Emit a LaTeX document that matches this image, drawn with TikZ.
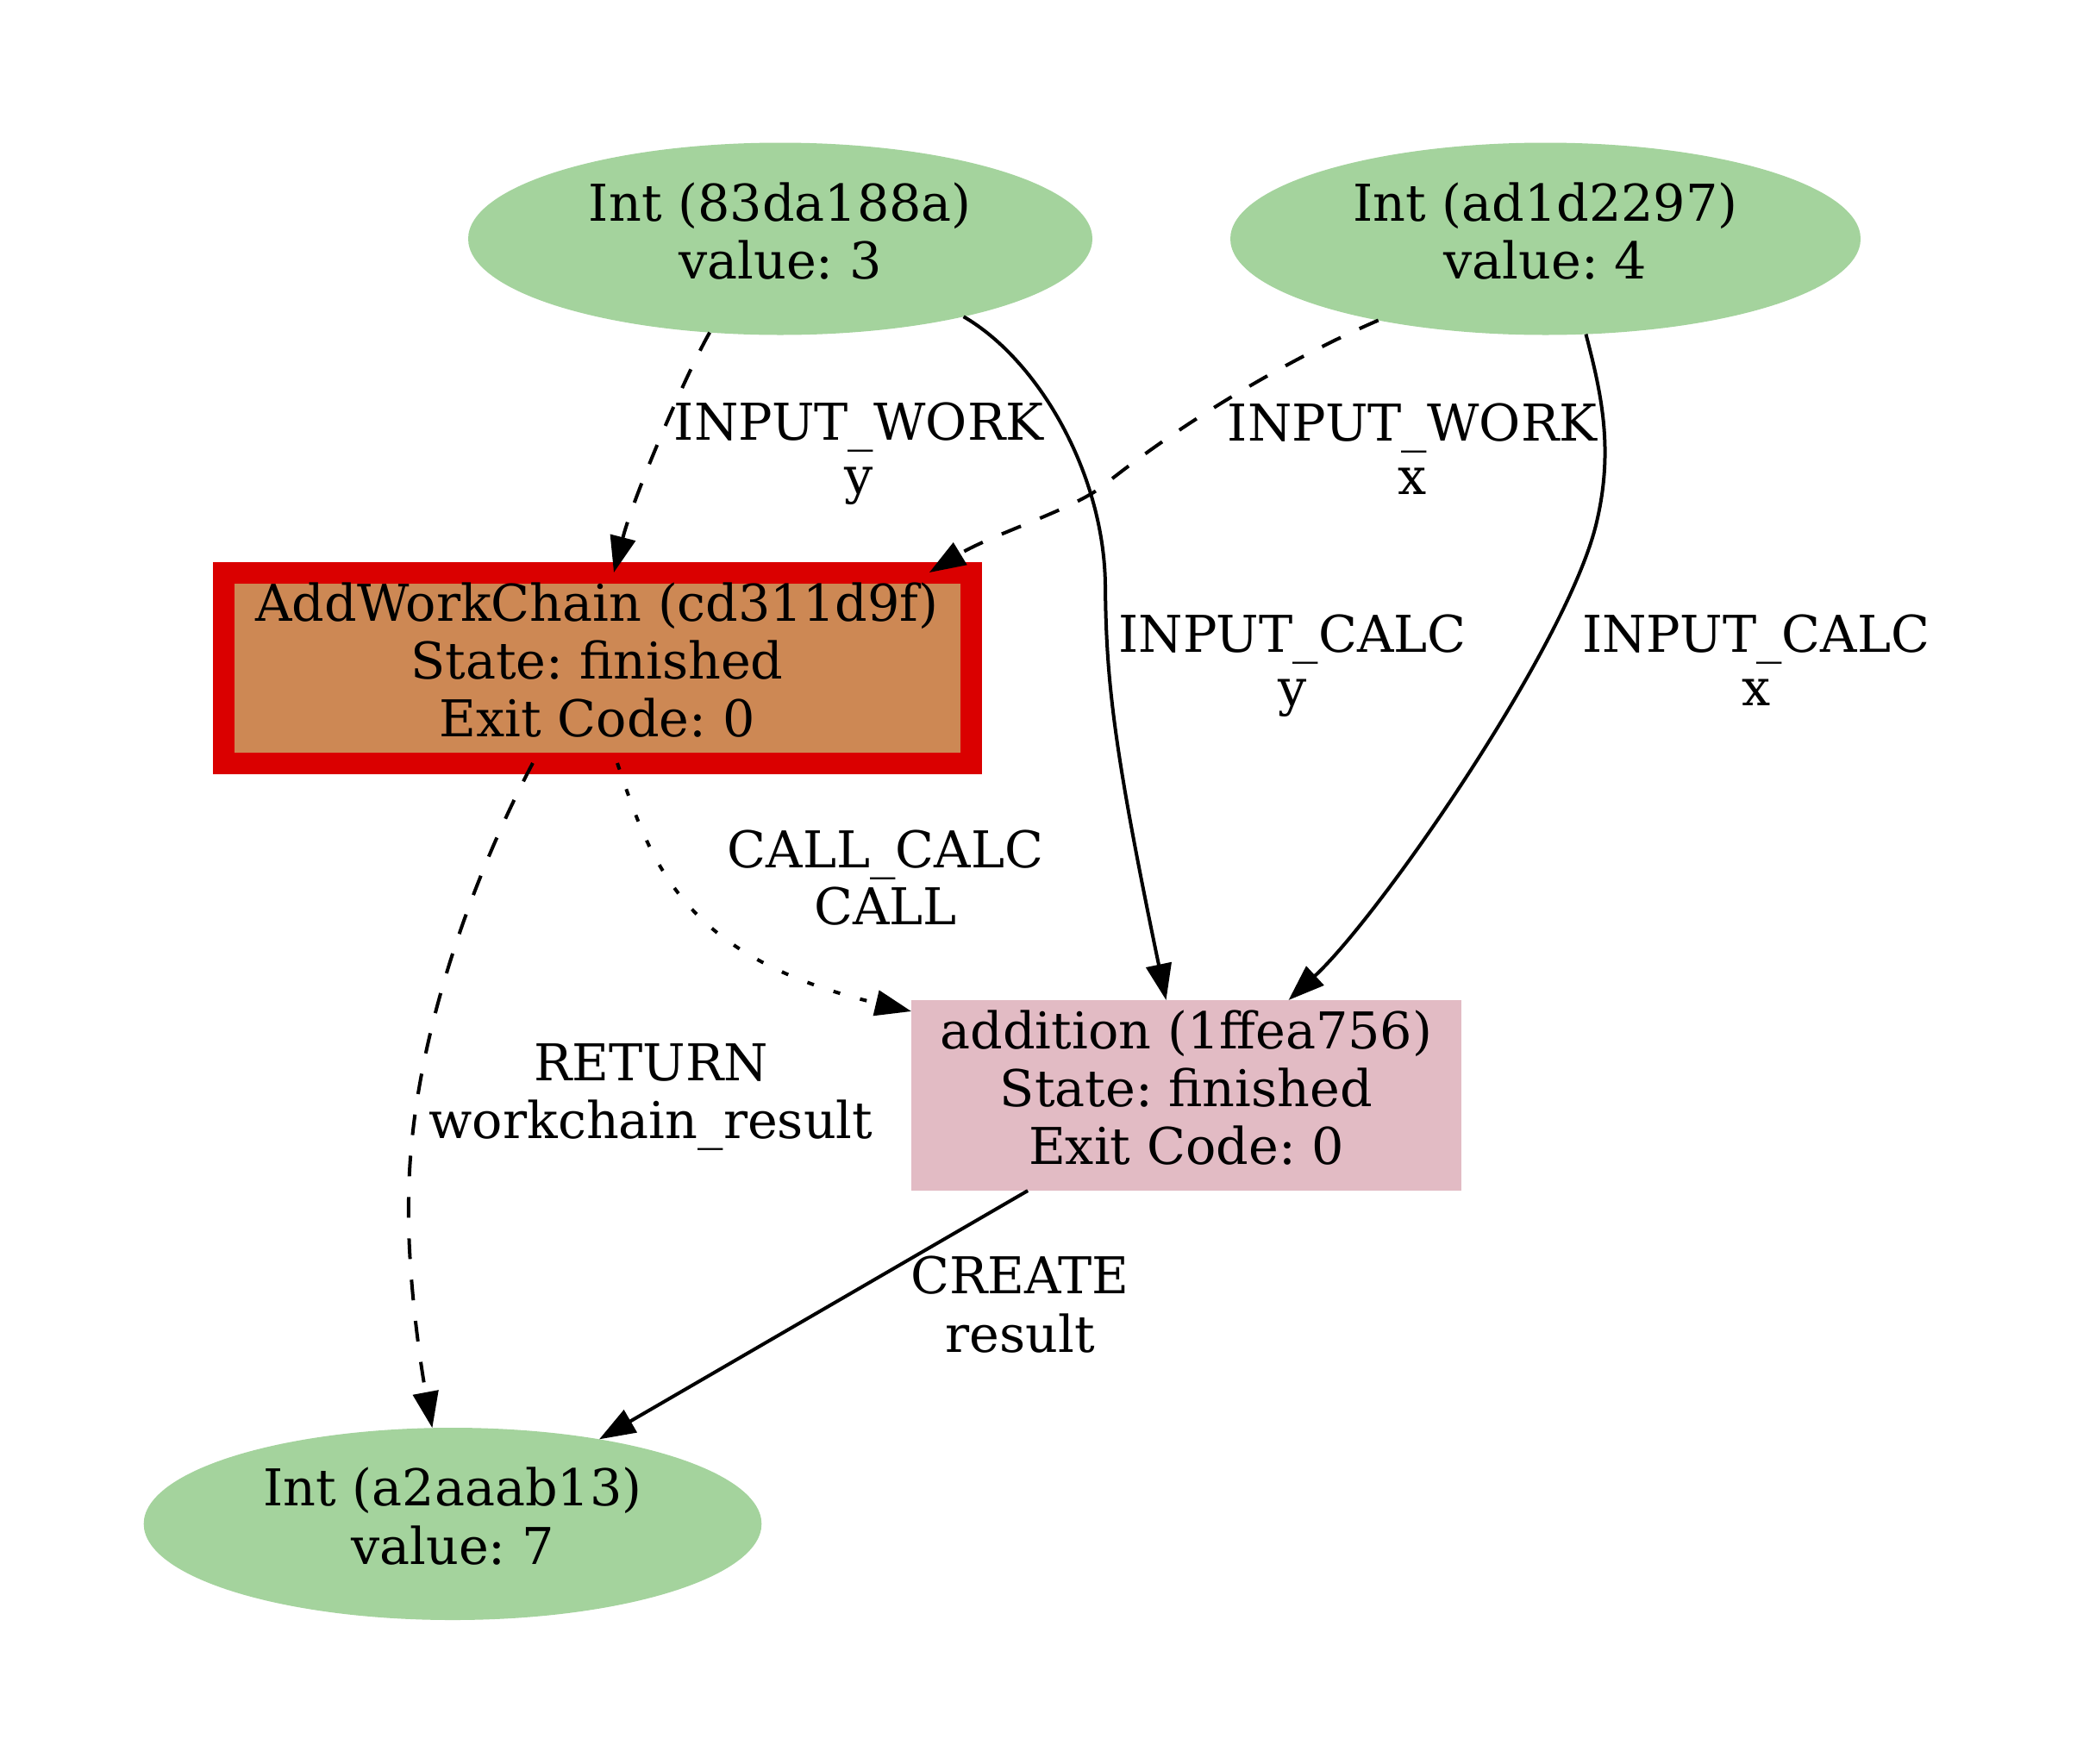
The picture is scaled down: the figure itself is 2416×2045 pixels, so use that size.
\documentclass[tikz,border=0pt]{standalone}
\usepackage{fontspec}
\setmainfont{DejaVu Serif}
\usetikzlibrary{arrows.meta,shapes.geometric}
\definecolor{datagreen}{RGB}{164,211,157}
\definecolor{wfbrown}{RGB}{205,136,84}
\definecolor{hlred}{RGB}{218,0,0}
\definecolor{calcpink}{RGB}{226,187,196}
\frenchspacing
\begin{document}
\begin{tikzpicture}[x=0.25pt,y=-0.25pt,
  every node/.style={font=\fontsize{14.7}{15.5}\selectfont, align=center, inner sep=0pt, outer sep=0pt},
  datanode/.style={ellipse, fill=datagreen, minimum height=55.75pt},
  calcnode/.style={rectangle, fill=calcpink, minimum width=159.5pt, minimum height=55.25pt},
  wfnode/.style={rectangle, fill=wfbrown, draw=hlred, line width=6.25pt, minimum width=216.75pt, minimum height=55.25pt},
  conn/.style={line width=1pt, -{Triangle[length=10.5pt,width=7.4pt]}},
  dashededge/.style={conn, dash pattern=on 6pt off 6pt},
  dottededge/.style={conn, dash pattern=on 2pt off 6pt}
]
\useasboundingbox (0,0) rectangle (2416,2045);

% nodes
\node[datanode, minimum width=181pt] (A) at (905,277) {\strut Int (83da188a)\\\strut value: 3};
\node[datanode, minimum width=182.75pt] (B) at (1792.5,277) {\strut Int (ad1d2297)\\\strut value: 4};
\node[wfnode] (W) at (692.5,774.5) {\strut AddWorkChain (cd311d9f)\\\strut State: finished\\\strut Exit Code: 0};
\node[calcnode] (D) at (1376,1270.5) {\strut addition (1ffea756)\\\strut State: finished\\\strut Exit Code: 0};
\node[datanode, minimum width=179.15pt] (C) at (525,1767.5) {\strut Int (a2aaab13)\\\strut value: 7};

% edge labels
\node (l1) at (996,529) {\strut INPUT\_WORK\\\strut y};
\node (l2) at (1638,530) {\strut INPUT\_WORK\\\strut x};
\node (l3) at (1499,774.7) {\strut INPUT\_CALC\\\strut y};
\node (l4) at (2036.6,774.7) {\strut INPUT\_CALC\\\strut x};
\node (l5) at (1027,1026.6) {\strut CALL\_CALC\\\strut CALL};
\node (l6) at (755,1274.6) {\strut RETURN\\\strut workchain\_result};
\node (l7) at (1183,1522) {\strut CREATE\\\strut result};

% edges
\draw[dashededge] (A.-127.5) .. controls (795,435) and (735,575) .. (W.80);
\draw[conn] (A.-23.8) .. controls (1205,418) and (1281,550) .. (1282,680)
  .. controls (1283,790) and (1292,870) .. (D.102.6);
\draw[dashededge] (B.-154.8) .. controls (1520,405) and (1390,475) .. (1280,563)
  .. controls (1245,591) and (1150,620) .. (W.16.9);
\draw[conn] (B.-67.2) .. controls (1857,455) and (1872,520) .. (1852,605)
  .. controls (1820,745) and (1600,1063) .. (D.43);
\draw[dashededge] (W.-124.2) .. controls (575,966) and (476,1180) .. (474,1390)
  .. controls (472,1480) and (489,1590) .. (C.102.2);
\draw[dottededge] (W.-78) .. controls (755,1000) and (790,1110) .. (D.163.2);
\draw[conn] (D.-149.8) -- (C.30.2);
\end{tikzpicture}
\end{document}
